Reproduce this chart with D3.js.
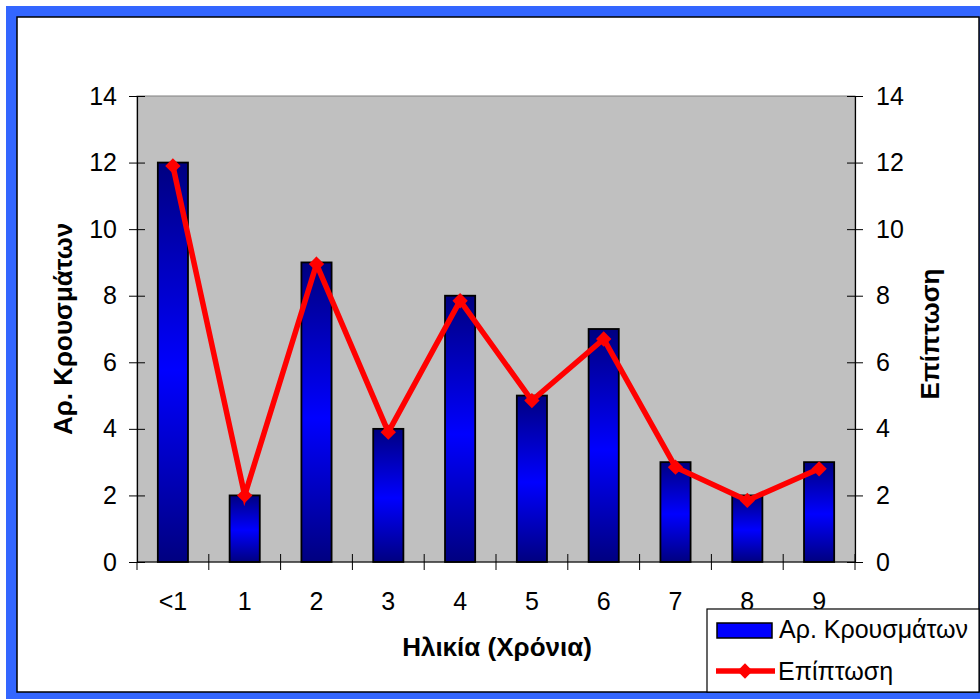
<!DOCTYPE html>
<html>
<head>
<meta charset="utf-8">
<script src="https://cdn.jsdelivr.net/npm/d3@7"></script>
<style>
  html, body { margin: 0; padding: 0; background: #fff; }
  svg { display: block; }
  text { font-family: "Liberation Sans", Arial, sans-serif; fill: #000; }
</style>
</head>
<body>
<svg id="chart" width="980" height="699"></svg>
<script>
// Age groups and the two series plotted against them
const categories = ["<1", "1", "2", "3", "4", "5", "6", "7", "8", "9"];
const cases = [12, 2, 9, 4, 8, 5, 7, 3, 2, 3];
const incidence = [11.9, 2.0, 8.95, 3.9, 7.85, 4.85, 6.7, 2.85, 1.85, 2.8];
const yTicks = [0, 2, 4, 6, 8, 10, 12, 14];

const labelCases = "Αρ. Κρουσμάτων";
const labelIncidence = "Επίπτωση";
const labelAge = "Ηλικία (Χρόνια)";

const svg = d3.select("#chart");
const W = 980, H = 699;
const plot = { left: 137, right: 855, top: 96, bottom: 562 };

// Outer blue frame with the white chart sheet on top
svg.append("rect").attr("x", 6).attr("y", 6).attr("width", W - 6).attr("height", H - 6)
  .attr("fill", "#3366ff");
svg.append("rect").attr("x", 17).attr("y", 17).attr("width", 962).attr("height", 675)
  .attr("fill", "#fff").attr("stroke", "#000").attr("stroke-width", 1.5);

// Vertical gradient for the bars: dark navy top and bottom, bright blue in between
const defs = svg.append("defs");
const grad = defs.append("linearGradient").attr("id", "barGrad")
  .attr("x1", 0).attr("y1", 0).attr("x2", 0).attr("y2", 1);
grad.append("stop").attr("offset", "0%").attr("stop-color", "#000080");
grad.append("stop").attr("offset", "52%").attr("stop-color", "#0000ff");
grad.append("stop").attr("offset", "100%").attr("stop-color", "#000080");

const x = d3.scaleBand().domain(categories).range([plot.left, plot.right])
  .paddingInner(0.58).paddingOuter(0.29);
const y = d3.scaleLinear().domain([0, 14]).range([plot.bottom, plot.top]);

// Plot area
svg.append("rect").attr("x", plot.left).attr("y", plot.top)
  .attr("width", plot.right - plot.left).attr("height", plot.bottom - plot.top)
  .attr("fill", "#c0c0c0").attr("stroke", "#808080").attr("stroke-width", 1);

// Bars
svg.append("g").selectAll("rect").data(categories).join("rect")
  .attr("x", d => x(d))
  .attr("y", (d, i) => y(cases[i]))
  .attr("width", x.bandwidth())
  .attr("height", (d, i) => y(0) - y(cases[i]))
  .attr("fill", "url(#barGrad)")
  .attr("stroke", "#000").attr("stroke-width", 1.8);

// Left and right value axes with ticks crossing the axis line
function styleAxis(g) {
  g.select(".domain").attr("stroke", "#000").attr("stroke-width", 1.2);
  g.selectAll(".tick line").attr("stroke", "#000").attr("stroke-width", 1)
    .attr("x1", -8).attr("x2", 8);
  g.selectAll(".tick text").style("font-size", "25px")
    .attr("font-family", "Liberation Sans, Arial, sans-serif");
}
const yLeft = d3.axisLeft(y).tickValues(yTicks).tickSize(8).tickPadding(12).tickSizeOuter(0);
svg.append("g").attr("transform", `translate(${plot.left},0)`).call(yLeft).call(styleAxis);
const yRight = d3.axisRight(y).tickValues(yTicks).tickSize(8).tickPadding(13).tickSizeOuter(0);
svg.append("g").attr("transform", `translate(${plot.right},0)`).call(yRight).call(styleAxis);

// Category axis: ticks sit on the boundaries between categories
const gap = x.step() - x.bandwidth();
const bounds = categories.map(c => x(c) - gap / 2)
  .concat([x(categories[categories.length - 1]) + x.bandwidth() + gap / 2]);
const gx = svg.append("g");
gx.append("line").attr("x1", plot.left).attr("x2", plot.right)
  .attr("y1", plot.bottom).attr("y2", plot.bottom).attr("stroke", "#000").attr("stroke-width", 1.2);
gx.selectAll("line.tk").data(bounds).join("line").attr("class", "tk")
  .attr("x1", d => d).attr("x2", d => d)
  .attr("y1", (d, i) => i === 0 ? plot.bottom : plot.bottom - 8).attr("y2", plot.bottom + 8)
  .attr("stroke", "#000").attr("stroke-width", 1);
gx.selectAll("text").data(categories).join("text")
  .attr("x", d => x(d) + x.bandwidth() / 2).attr("y", 610)
  .attr("text-anchor", "middle").style("font-size", "25px").text(d => d);

// Incidence line with diamond markers
const lineGen = d3.line().x((d, i) => x(categories[i]) + x.bandwidth() / 2).y(d => y(d));
svg.append("path").datum(incidence).attr("d", lineGen)
  .attr("fill", "none").attr("stroke", "#ff0000").attr("stroke-width", 5.5)
  .attr("stroke-linejoin", "miter");
svg.append("g").selectAll("path").data(incidence).join("path")
  .attr("d", d3.symbol(d3.symbolDiamond2, 150))
  .attr("transform", (d, i) => `translate(${x(categories[i]) + x.bandwidth() / 2},${y(d)})`)
  .attr("fill", "#ff0000");

// Axis titles
svg.append("text").attr("transform", `translate(72,${(plot.top + plot.bottom) / 2}) rotate(-90)`)
  .attr("text-anchor", "middle").style("font-size", "26px").style("font-weight", "bold")
  .text(labelCases);
svg.append("text").attr("transform", `translate(939,${(plot.top + plot.bottom) / 2 + 5}) rotate(-90)`)
  .attr("text-anchor", "middle").style("font-size", "26px").style("font-weight", "bold")
  .text(labelIncidence);
svg.append("text").attr("x", 497).attr("y", 656)
  .attr("text-anchor", "middle").style("font-size", "26px").style("font-weight", "bold")
  .text(labelAge);

// Legend
const lg = svg.append("g");
lg.append("rect").attr("x", 707).attr("y", 609).attr("width", 272).attr("height", 83)
  .attr("fill", "#fff").attr("stroke", "#000").attr("stroke-width", 1.2);
lg.append("rect").attr("x", 717).attr("y", 623).attr("width", 55).attr("height", 15)
  .attr("fill", "#0000ff").attr("stroke", "#000").attr("stroke-width", 1.5);
lg.append("text").attr("x", 779).attr("y", 638).style("font-size", "25px").text(labelCases);
lg.append("line").attr("x1", 716).attr("x2", 775).attr("y1", 671).attr("y2", 671)
  .attr("stroke", "#ff0000").attr("stroke-width", 5.5);
lg.append("path").attr("d", d3.symbol(d3.symbolDiamond2, 150))
  .attr("transform", "translate(745,671)").attr("fill", "#ff0000");
lg.append("text").attr("x", 778).attr("y", 680).style("font-size", "25px").text(labelIncidence);
</script>
</body>
</html>
